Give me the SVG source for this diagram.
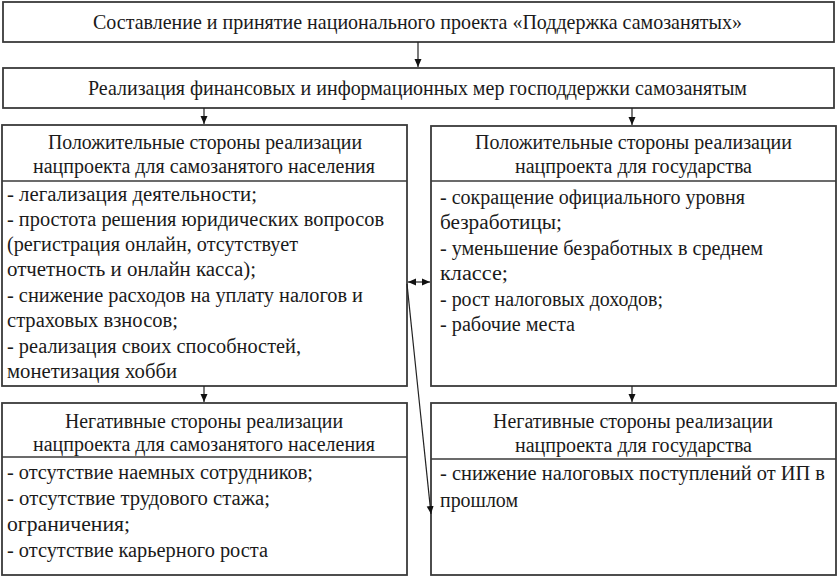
<svg xmlns="http://www.w3.org/2000/svg" width="839" height="577" viewBox="0 0 839 577">
<style>
.box{fill:#fff;stroke:#3a3a3a;stroke-width:1.8}
.div{stroke:#3a3a3a;stroke-width:1.5}
text{font-family:"Liberation Serif","Times New Roman",serif;fill:#1a1a1a;font-size:20px}
.t{font-size:21px}
.con{stroke:#222;stroke-width:1.2;fill:none}
</style>
<defs>
<marker id="ah" viewBox="0 0 8 8" refX="8" refY="4" markerWidth="8" markerHeight="8" markerUnits="userSpaceOnUse" orient="auto-start-reverse">
<path d="M0,0.5 L8,4 L0,7.5 z" fill="#111"/>
</marker>
</defs>
<rect width="839" height="577" fill="#fff"/>

<g id="n1">
<rect class="box" x="3" y="2" width="831" height="40"/>
<text class="t" x="93" y="29" textLength="649" lengthAdjust="spacingAndGlyphs">Составление и принятие национального проекта «Поддержка самозанятых»</text>
</g>

<g id="n2">
<rect class="box" x="3" y="68" width="831" height="40"/>
<text class="t" x="88" y="95" textLength="659" lengthAdjust="spacingAndGlyphs">Реализация финансовых и информационных мер господдержки самозанятым</text>
</g>

<g id="n3">
<rect class="box" x="2" y="125" width="405" height="261"/>
<line class="div" x1="2" y1="181" x2="407" y2="181"/>
<text x="48" y="149" textLength="314" lengthAdjust="spacingAndGlyphs">Положительные стороны реализации</text>
<text x="33" y="173" textLength="342" lengthAdjust="spacingAndGlyphs">нацпроекта для самозанятого населения</text>
<text x="7" y="201" textLength="250" lengthAdjust="spacingAndGlyphs">- легализация деятельности;</text>
<text x="7" y="226" textLength="377" lengthAdjust="spacingAndGlyphs">- простота решения юридических вопросов</text>
<text x="7" y="251" textLength="291" lengthAdjust="spacingAndGlyphs">(регистрация онлайн, отсутствует</text>
<text x="7" y="276" textLength="249" lengthAdjust="spacingAndGlyphs">отчетность и онлайн касса);</text>
<text x="7" y="302" textLength="356" lengthAdjust="spacingAndGlyphs">- снижение расходов на уплату налогов и</text>
<text x="7" y="327" textLength="171" lengthAdjust="spacingAndGlyphs">страховых взносов;</text>
<text x="7" y="353" textLength="294" lengthAdjust="spacingAndGlyphs">- реализация своих способностей,</text>
<text x="7" y="378" textLength="170" lengthAdjust="spacingAndGlyphs">монетизация хобби</text>
</g>

<g id="n4">
<rect class="box" x="431" y="126" width="405" height="260"/>
<line class="div" x1="431" y1="181" x2="836" y2="181"/>
<text x="475" y="149" textLength="317" lengthAdjust="spacingAndGlyphs">Положительные стороны реализации</text>
<text x="515" y="173" textLength="237" lengthAdjust="spacingAndGlyphs">нацпроекта для государства</text>
<text x="440" y="204" textLength="305" lengthAdjust="spacingAndGlyphs">- сокращение официального уровня</text>
<text x="440" y="229" textLength="122" lengthAdjust="spacingAndGlyphs">безработицы;</text>
<text x="440" y="255" textLength="323" lengthAdjust="spacingAndGlyphs">- уменьшение безработных в среднем</text>
<text x="440" y="280" textLength="68" lengthAdjust="spacingAndGlyphs">классе;</text>
<text x="440" y="306" textLength="223" lengthAdjust="spacingAndGlyphs">- рост налоговых доходов;</text>
<text x="440" y="331" textLength="135" lengthAdjust="spacingAndGlyphs">- рабочие места</text>
</g>

<g id="n5">
<rect class="box" x="2" y="403" width="405" height="172"/>
<line class="div" x1="2" y1="457" x2="407" y2="457"/>
<text x="65" y="428" textLength="278" lengthAdjust="spacingAndGlyphs">Негативные стороны реализации</text>
<text x="33" y="451" textLength="342" lengthAdjust="spacingAndGlyphs">нацпроекта для самозанятого населения</text>
<text x="7" y="479" textLength="306" lengthAdjust="spacingAndGlyphs">- отсутствие наемных сотрудников;</text>
<text x="7" y="505" textLength="263" lengthAdjust="spacingAndGlyphs">- отсутствие трудового стажа;</text>
<text x="7" y="531" textLength="123" lengthAdjust="spacingAndGlyphs">ограничения;</text>
<text x="7" y="557" textLength="261" lengthAdjust="spacingAndGlyphs">- отсутствие карьерного роста</text>
</g>

<g id="n6">
<rect class="box" x="431" y="403" width="405" height="172"/>
<line class="div" x1="431" y1="459" x2="836" y2="459"/>
<text x="493" y="428" textLength="280" lengthAdjust="spacingAndGlyphs">Негативные стороны реализации</text>
<text x="515" y="452" textLength="237" lengthAdjust="spacingAndGlyphs">нацпроекта для государства</text>
<text x="440" y="480" textLength="385" lengthAdjust="spacingAndGlyphs">- снижение налоговых поступлений от ИП в</text>
<text x="440" y="507" textLength="78" lengthAdjust="spacingAndGlyphs">прошлом</text>
</g>

<g id="connectors">
<line class="con" x1="418" y1="42" x2="418" y2="67" marker-end="url(#ah)"/>
<line class="con" x1="204" y1="108" x2="204" y2="124" marker-end="url(#ah)"/>
<line class="con" x1="632" y1="108" x2="632" y2="125" marker-end="url(#ah)"/>
<line class="con" x1="204" y1="386" x2="204" y2="402" marker-end="url(#ah)"/>
<line class="con" x1="632" y1="386" x2="632" y2="402" marker-end="url(#ah)"/>
<line class="con" x1="408" y1="282" x2="430" y2="282" marker-start="url(#ah)" marker-end="url(#ah)"/>
<line class="con" x1="407" y1="284" x2="431" y2="514" marker-end="url(#ah)" stroke-width="1"/>
</g>
</svg>
